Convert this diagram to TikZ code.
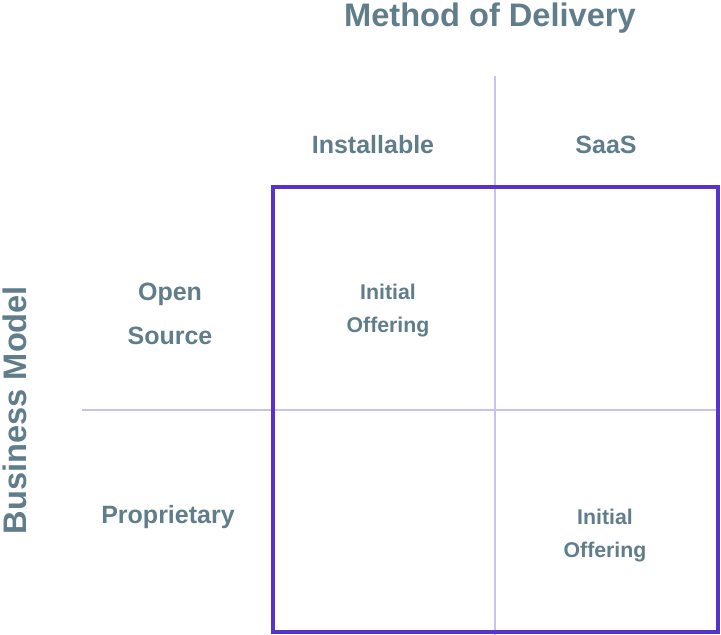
\documentclass[tikz,border=0pt]{standalone}
\usepackage{fontspec}
\setmainfont{Liberation Sans}
\usepackage{tikz}
\usetikzlibrary{positioning}
\definecolor{labelgray}{HTML}{607D8B}
\definecolor{boxpurple}{HTML}{5533CC}
\definecolor{gridlilac}{HTML}{C9C1F0}

\begin{document}
\begin{tikzpicture}[x=1pt,y=-1pt,semithick]
  \tikzstyle{axis title}=[text=labelgray,font=\fontsize{32.6}{36}\selectfont\bfseries]
  \tikzstyle{heading}=[text=labelgray,font=\fontsize{25}{44}\selectfont\bfseries,align=center]
  \tikzstyle{cell}=[text=labelgray,font=\fontsize{21.3}{33}\selectfont\bfseries,align=center]
  \tikzstyle{grid line}=[draw=gridlilac,line width=1.2pt]
\useasboundingbox (0,0) rectangle (721,635);
% axes
\coordinate (top) at (495,76);
\coordinate (bottom) at (495,635);
\coordinate (left) at (82,410);
\coordinate (right) at (718,410);
\draw[grid line] (top) -- (bottom);
\draw[grid line] (left) -- (right);
% selected block
\draw[boxpurple,line width=4pt] (272.5,187) rectangle (718,631.5);
% titles
\node[axis title] (delivery) at (490,18) {Method of Delivery};
\node[axis title,rotate=90] (model) at (15,410) {Business Model};
% column and row headings
\node[heading] (install) at (373,145) {Installable};
\node[heading] (saas) at (606,145) {SaaS};
\node[heading] (open) at (170,314) {Open\\Source};
\node[heading] (prop) at (168,517) {Proprietary};
% cells
\node[cell] (first) at (388,311) {Initial\\Offering};
\node[cell] (second) at (605,536) {Initial\\Offering};
\end{tikzpicture}
\end{document}
